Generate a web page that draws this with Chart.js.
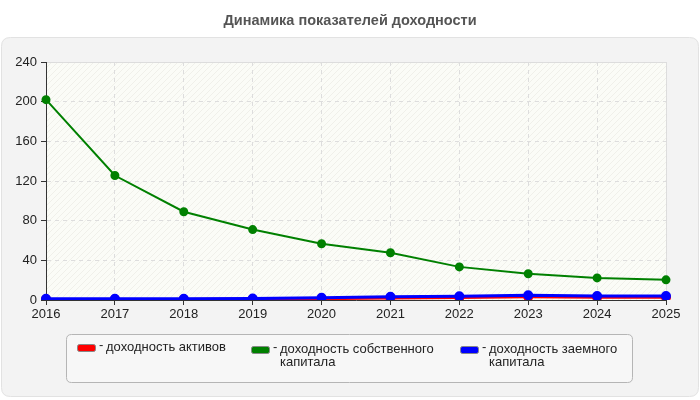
<!DOCTYPE html>
<html>
<head>
<meta charset="utf-8">
<script src="https://cdn.jsdelivr.net/npm/chart.js@4"></script>
<style>
  html, body { margin: 0; padding: 0; background: #fff; }
  #wrap { width: 700px; height: 400px; }
</style>
</head>
<body>
<div id="wrap"><canvas id="c" width="700" height="400"></canvas></div>
<script>
// данные графика
const years = ['2016', '2017', '2018', '2019', '2020', '2021', '2022', '2023', '2024', '2025'];
const assetsReturn = [0.6, 0.6, 0.6, 0.8, 1.3, 2.0, 2.4, 3.2, 2.7, 2.7];
const equityReturn = [202, 125.5, 89, 71, 56.7, 47.6, 33.4, 26.5, 22.3, 20.3];
const debtReturn = [1.2, 1.2, 1.2, 1.4, 2.3, 3.2, 3.8, 4.8, 4.0, 4.0];
const yTicks = [0, 40, 80, 120, 160, 200, 240];
const legendLines = [
  ['доходность активов'],
  ['доходность собственного', 'капитала'],
  ['доходность заемного', 'капитала']
];

const FONT = 'Arial, "Liberation Sans", sans-serif';

function roundRect(ctx, x, y, w, h, r) {
  ctx.beginPath();
  ctx.moveTo(x + r, y);
  ctx.lineTo(x + w - r, y);
  ctx.quadraticCurveTo(x + w, y, x + w, y + r);
  ctx.lineTo(x + w, y + h - r);
  ctx.quadraticCurveTo(x + w, y + h, x + w - r, y + h);
  ctx.lineTo(x + r, y + h);
  ctx.quadraticCurveTo(x, y + h, x, y + h - r);
  ctx.lineTo(x, y + r);
  ctx.quadraticCurveTo(x, y, x + r, y);
  ctx.closePath();
}

function hatchPattern(ctx) {
  const p = document.createElement('canvas');
  p.width = 6; p.height = 6;
  const g = p.getContext('2d');
  g.fillStyle = '#fbfcf7';
  g.fillRect(0, 0, 6, 6);
  g.strokeStyle = '#f0f0ea';
  g.lineWidth = 1;
  g.beginPath();
  g.moveTo(0, 6); g.lineTo(6, 0);
  g.moveTo(-3, 3); g.lineTo(3, -3);
  g.moveTo(3, 9); g.lineTo(9, 3);
  g.stroke();
  return ctx.createPattern(p, 'repeat');
}

const background = {
  id: 'background',
  beforeDraw(chart) {
    const ctx = chart.ctx;
    const a = chart.chartArea;
    ctx.save();
    ctx.fillStyle = '#ffffff';
    ctx.fillRect(0, 0, chart.width, chart.height);
    // серая панель
    roundRect(ctx, 1.5, 37.5, 697, 359, 9);
    ctx.fillStyle = '#f3f3f3';
    ctx.fill();
    ctx.strokeStyle = '#e2e2e2';
    ctx.lineWidth = 1;
    ctx.stroke();
    // заголовок
    ctx.fillStyle = '#555';
    ctx.font = 'bold 14.5px ' + FONT;
    ctx.textAlign = 'center';
    ctx.textBaseline = 'alphabetic';
    ctx.fillText('Динамика показателей доходности', 350, 25);
    // область графика
    ctx.fillStyle = hatchPattern(ctx);
    ctx.fillRect(a.left, a.top, a.right - a.left, a.bottom - a.top);
    ctx.strokeStyle = '#dcdcdc';
    ctx.strokeRect(a.left + 0.5, a.top + 0.5, a.right - a.left, a.bottom - a.top);
    ctx.restore();
  }
};

const boxLegend = {
  id: 'boxLegend',
  afterDraw(chart) {
    const ctx = chart.ctx;
    ctx.save();
    roundRect(ctx, 66.5, 334.5, 566, 48, 5);
    ctx.fillStyle = '#f7f7f7';
    ctx.fill();
    ctx.strokeStyle = '#b5b5b5';
    ctx.lineWidth = 1;
    ctx.stroke();

    const xs = [77, 251, 460];
    ctx.font = '13px ' + FONT;
    ctx.textBaseline = 'alphabetic';
    ctx.textAlign = 'left';
    chart.data.datasets.forEach((ds, i) => {
      const x = xs[i];
      const top = i === 0 ? 344 : 346;
      const base = i === 0 ? 351 : 353;
      roundRect(ctx, x + 0.5, top + 0.5, 18, 7, 2);
      ctx.fillStyle = ds.borderColor;
      ctx.fill();
      ctx.strokeStyle = '#888';
      ctx.stroke();
      ctx.fillStyle = '#222';
      ctx.fillText('-', x + 22, base - 2);
      legendLines[i].forEach((t, k) => {
        ctx.fillText(t, x + 29, base + k * 13);
      });
    });
    ctx.restore();
  }
};

const axisFont = { family: FONT, size: 13 };

new Chart(document.getElementById('c'), {
  type: 'line',
  data: {
    labels: years,
    datasets: [
      { label: 'доходность активов', data: assetsReturn, borderColor: '#ff0000', backgroundColor: '#ff0000', borderWidth: 3, order: 3 },
      { label: 'доходность собственного капитала', data: equityReturn, borderColor: '#008000', backgroundColor: '#008000', borderWidth: 2, order: 2 },
      { label: 'доходность заемного капитала', data: debtReturn, borderColor: '#0000ff', backgroundColor: '#0000ff', borderWidth: 3, order: 1 }
    ]
  },
  options: {
    responsive: false,
    animation: false,
    devicePixelRatio: 1,
    layout: { padding: { top: 62, right: 34, bottom: 80, left: 0 } },
    elements: {
      line: { tension: 0 },
      point: { radius: 3.5, borderWidth: 0, hoverRadius: 4 }
    },
    plugins: {
      legend: { display: false },
      title: { display: false },
      tooltip: { enabled: false }
    },
    scales: {
      x: {
        offset: false,
        afterFit(s) { s.height = 20; },
        grid: { color: '#dddddd', tickLength: 5, tickColor: '#333', tickBorderDash: [] },
        border: { color: '#333', width: 1, dash: [4, 4] },
        ticks: { color: '#222', font: axisFont, padding: 2, maxRotation: 0 }
      },
      y: {
        min: 0,
        max: 240,
        afterFit(s) { s.width = 46; },
        afterBuildTicks(s) { s.ticks = yTicks.map(v => ({ value: v })); },
        grid: { color: '#dddddd', tickLength: 5, tickColor: '#333', tickBorderDash: [] },
        border: { color: '#333', width: 1, dash: [4, 4] },
        ticks: { color: '#222', font: axisFont, padding: 4 }
      }
    }
  },
  plugins: [background, boxLegend]
});
</script>
</body>
</html>
